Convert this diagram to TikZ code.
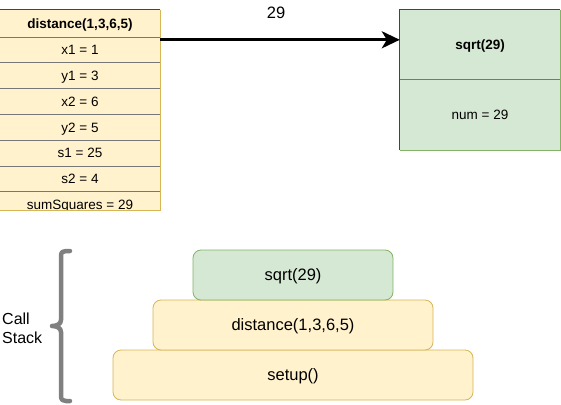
\documentclass[tikz,border=0pt]{standalone}
\usepackage{fontspec}
\setmainfont{Liberation Sans}
\usetikzlibrary{arrows.meta}
\definecolor{yfill}{HTML}{FFF2CC}
\definecolor{ystroke}{HTML}{D6B656}
\definecolor{gfill}{HTML}{D5E8D4}
\definecolor{gstroke}{HTML}{82B366}
\definecolor{sepgray}{HTML}{777777}
\definecolor{edgegray}{HTML}{444444}
\definecolor{bracegray}{HTML}{808080}
\tikzset{
  rowtext/.style={font=\fontsize{13.5}{16}\selectfont, text height=9.7pt, text depth=0pt, inner sep=0pt},
  headtext/.style={rowtext, font=\fontsize{13.5}{16}\selectfont\bfseries},
  stackbox/.style={rounded corners=8pt, line width=0.8pt, font=\fontsize{16.5}{19}\selectfont,
     text height=11.8pt, text depth=0pt, minimum height=50pt, inner sep=0pt},
  callarrow/.style={line width=3pt, -{Stealth[length=18pt,width=17pt,inset=5pt]}},
  framebox/.style={inner sep=0pt, draw=none},
}
\begin{document}
\begin{tikzpicture}[x=1pt,y=-1pt]
\useasboundingbox (0,0) rectangle (561,404);
% left frame (distance)
\node[framebox, fill=yfill, minimum width=160pt, minimum height=200pt] (tbl) at (80,110) {};
\begin{scope}
\clip (0,10) rectangle (160,210);
\foreach \y in {37,62.8,88.6,114.4,140.2,166,191.8}
  \draw[sepgray, line width=0.8pt] (0,\y) -- (160,\y);
\node[headtext] (h1) at (80,23.8) {distance(1,3,6,5)};
\node[rowtext] (r1) at (80,49.9) {x1 = 1};
\node[rowtext] (r2) at (80,75.7) {y1 = 3};
\node[rowtext] (r3) at (80,101.5) {x2 = 6};
\node[rowtext] (r4) at (80,127.3) {y2 = 5};
\node[rowtext] (r5) at (80,153.1) {s1 = 25};
\node[rowtext] (r6) at (80,178.9) {s2 = 4};
\node[rowtext] (r7) at (80,204.7) {sumSquares = 29};
\end{scope}
\draw[edgegray, line width=0.9pt] (tbl.south west) -- (tbl.north west) -- (tbl.north east);
\draw[ystroke, line width=1pt] (tbl.north east) -- (tbl.south east) -- (tbl.south west);
% right frame (sqrt)
\node[framebox, fill=gfill, minimum width=160pt, minimum height=140pt] (sq) at (480,80) {};
\draw[sepgray, line width=0.8pt] (sq.west) ++(0,-1) -- ++(160,0);
\draw[edgegray, line width=0.9pt] (sq.south west) -- (sq.north west) -- (sq.north east);
\draw[gstroke, line width=1pt] (sq.north east) -- (sq.south east) -- (sq.south west);
\node[headtext] (sqh) at (480,45) {sqrt(29)};
\node[rowtext] (sqr) at (480,115) {num = 29};
% arrow
\path (tbl.north east) ++(0,30) coordinate (a1);
\path (sq.north west) ++(0,30) coordinate (a2);
\draw[callarrow] (a1) -- (a2);
\node[font=\fontsize{16.5}{19}\selectfont, text height=11.8pt, text depth=0pt, inner sep=0pt] (lbl) at (276,13) {29};
% call stack
\node[stackbox, fill=yfill, draw=ystroke, minimum width=360pt] (s3) at (293,375) {setup()};
\node[stackbox, fill=yfill, draw=ystroke, minimum width=280pt] (s2) at (293,325) {distance(1,3,6,5)};
\node[stackbox, fill=gfill, draw=gstroke, minimum width=200pt] (s1) at (293,275) {sqrt(29)};
% brace
\draw[bracegray, line width=4.5pt, line cap=round, line join=round]
  (70,251) -- (66,251) .. controls (63,251) and (61,252) .. (61,256) -- (61,320)
  .. controls (61,324) and (57,326) .. (52,326)
  .. controls (57,326) and (61,328) .. (61,332) -- (61,396)
  .. controls (61,400) and (63,401) .. (66,401) -- (70,401);
\node[anchor=north west, align=left, inner sep=0pt, font=\fontsize{16}{19.3}\selectfont] (cs) at (2,312.5) {Call\\Stack};
\end{tikzpicture}
\end{document}
